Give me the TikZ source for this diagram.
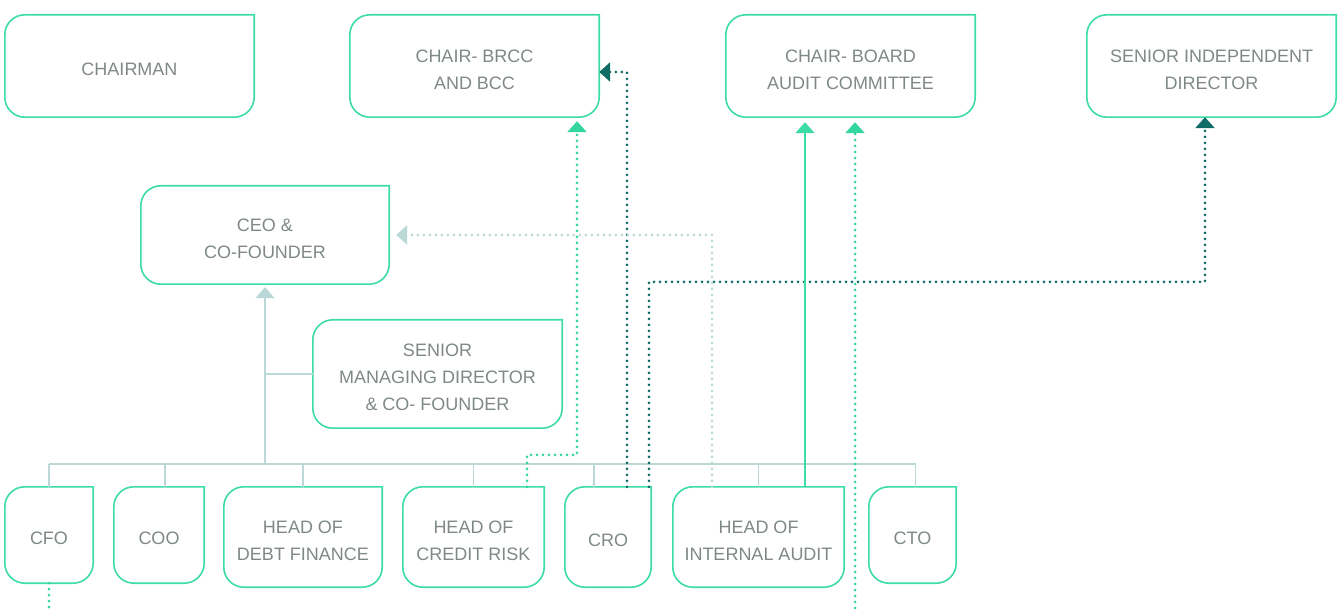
\documentclass[tikz,border=0pt]{standalone}
\usepackage{fontspec}
\setmainfont{Liberation Sans}
\usetikzlibrary{arrows.meta}

\definecolor{mint}{HTML}{3DDBA8}
\definecolor{mintdot}{HTML}{33D69F}
\definecolor{deepteal}{HTML}{0F6B66}
\definecolor{paleteal}{HTML}{BAD8D5}
\definecolor{labelgrey}{HTML}{7F8983}

\tikzset{
  role/.style={draw=none, inner sep=0pt},
  every label/.style={inner sep=0pt, align=center, text=labelgrey, yshift=-3.5pt,
    font=\fontsize{18pt}{27pt}\selectfont},
  outline/.style={draw=mint, line width=1.6pt},
  orgline/.style={draw=paleteal, line width=1.5pt},
  dotline/.style={line width=3pt, line cap=round, dash pattern=on 0pt off 6pt},
  tri/.style={-{Triangle[width=19pt,length=11pt]}},
}

% rounded box with a square upper-right corner
\newcommand\roleoutline[1]{%
  \draw[outline] (#1.north east) -- ([yshift=20pt]#1.south east)
    arc[start angle=0, end angle=-90, radius=20pt]
    -- ([xshift=20pt]#1.south west)
    arc[start angle=270, end angle=180, radius=20pt]
    -- ([yshift=-20pt]#1.north west)
    arc[start angle=180, end angle=90, radius=20pt]
    -- cycle;}

\begin{document}
\begin{tikzpicture}[x=1pt, y=1pt]
\useasboundingbox (0,0) rectangle (1338,608);

% board
\node[role, minimum width=249pt, minimum height=102pt, label={center:CHAIRMAN}] (chair) at (129.5,542) {};
\node[role, minimum width=249pt, minimum height=102pt, label={center:{CHAIR- BRCC\\AND BCC}}] (brcc) at (474.5,542) {};
\node[role, minimum width=249pt, minimum height=102pt, label={center:{CHAIR- BOARD\\AUDIT COMMITTEE}}] (bac) at (850.5,542) {};
\node[role, minimum width=249pt, minimum height=102pt, label={center:{SENIOR INDEPENDENT\\DIRECTOR}}] (sid) at (1211.5,542) {};

% executive
\node[role, minimum width=248pt, minimum height=98pt, label={center:{CEO \&\\CO-FOUNDER}}] (ceo) at (265,373) {};
\node[role, minimum width=249pt, minimum height=108pt, label={center:{SENIOR\\MANAGING DIRECTOR\\\& CO- FOUNDER}}] (smd) at (437.5,234) {};

% direct reports
\node[role, minimum width=88pt, minimum height=96pt, label={center:CFO}] (cfo) at (49,73) {};
\node[role, minimum width=90pt, minimum height=96pt, label={center:COO}] (coo) at (159,73) {};
\node[role, minimum width=158pt, minimum height=100pt, label={center:{HEAD OF\\DEBT FINANCE}}] (debt) at (303,71) {};
\node[role, minimum width=141pt, minimum height=100pt, label={center:{HEAD OF\\CREDIT RISK}}] (credit) at (473.5,71) {};
\node[role, minimum width=86pt, minimum height=100pt, label={center:CRO}] (cro) at (608,71) {};
\node[role, minimum width=171pt, minimum height=100pt, label={center:{HEAD OF\\INTERNAL AUDIT}}] (ia) at (758.5,71) {};
\node[role, minimum width=87pt, minimum height=96pt, label={center:CTO}] (cto) at (912.5,73) {};

\foreach \n in {chair,brcc,bac,sid,ceo,smd,cfo,coo,debt,credit,cro,ia,cto}
  \roleoutline{\n};

% free ends at the lower edge and bus points
\coordinate (cfoout) at (49,0);
\coordinate (auditin) at (855,0);
\coordinate (busL) at (49,144);
\coordinate (trunk) at (265,144);

% reporting lines to the CEO
\draw[orgline] (busL) -- ([xshift=3pt]cto.north |- busL);
\draw[orgline, tri, paleteal, shorten >=3pt] (trunk) -- (ceo.south);
\draw[orgline] (trunk |- smd.west) -- (smd.west);
\foreach \n in {cfo,debt,credit,ia}
  \draw[orgline] (\n.north) -- (\n.north |- busL);
\draw[orgline] ([xshift=3pt]cto.north) -- ([xshift=3pt]cto.north |- busL);
\draw[orgline] ([xshift=6pt]coo.north) -- ([xshift=6pt]coo.north |- busL);
\draw[orgline] ([xshift=-14pt]cro.north) -- ([xshift=-14pt]cro.north |- busL);

% board reporting lines
\draw[dotline, mintdot, tri, shorten >=4pt] ([xshift=53.5pt]credit.north) -- ++(0,32) -| ([xshift=102.5pt]brcc.south);
\draw[dotline, deepteal, tri] ([xshift=19pt]cro.north) |- ([yshift=-6pt]brcc.east);
\draw[dotline, deepteal, tri] ([xshift=41pt]cro.north) -- ++(0,205) -| ([xshift=-6.5pt]sid.south);
\draw[dotline, paleteal, tri, shorten >=7pt] ([xshift=-46.5pt]ia.north) |- (ceo.east);
\draw[line width=1.6pt, mint, tri, shorten >=5pt] ([xshift=46.5pt]ia.north) -- ([xshift=46.5pt]ia.north |- bac.south);
\draw[dotline, mintdot, tri, shorten >=5pt] (auditin) -- (auditin |- bac.south);
\draw[dotline, mintdot] (cfo.south) -- (cfoout);
\end{tikzpicture}
\end{document}
